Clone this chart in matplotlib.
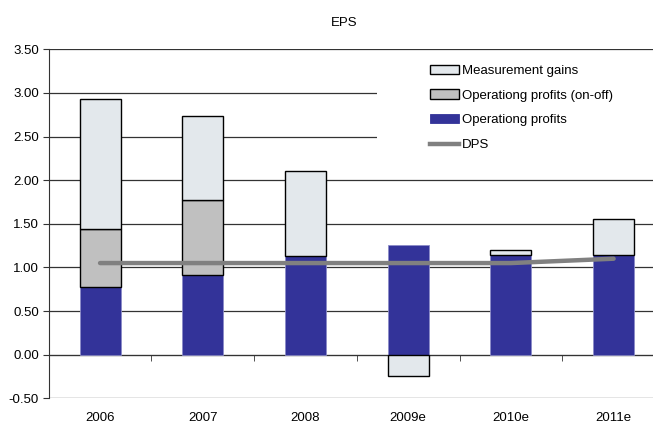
import numpy as np
import matplotlib
matplotlib.use("Agg")
import matplotlib.pyplot as plt
from matplotlib.patches import Patch, Rectangle
from matplotlib.lines import Line2D

plt.rcParams['font.family'] = ['Liberation Sans Narrow', 'Liberation Sans', 'DejaVu Sans']

years = ['2006', '2007', '2008', '2009e', '2010e', '2011e']
op_profits = [0.77, 0.91, 1.13, 1.26, 1.14, 1.14]
op_onoff = [0.67, 0.86, 0.0, 0.0, 0.0, 0.0]
meas_gains = [1.49, 0.97, 0.97, -0.25, 0.06, 0.42]
dps = [1.05, 1.05, 1.05, 1.05, 1.05, 1.10]
yticks = [-0.5, 0, 0.5, 1.0, 1.5, 2.0, 2.5, 3.0, 3.5]

c_op = '#333399'
c_onoff = '#c0c0c0'
c_meas = '#e3e8ec'
c_dps = '#808080'

fig = plt.figure(figsize=(6.53, 4.26), dpi=100)
ax = fig.add_axes([48.7 / 653, 27.7 / 426, (653 - 48.7) / 653, 349 / 426])

x = np.arange(len(years))
w = 0.40
op = np.array(op_profits)
onoff = np.array(op_onoff)
meas = np.array(meas_gains)

ax.bar(x, op, w, color=c_op, edgecolor='#8c8cc8', linewidth=0.6, zorder=3)
mask = onoff > 0
ax.bar(x[mask], onoff[mask], w, bottom=op[mask], color=c_onoff,
       edgecolor='black', linewidth=1.0, zorder=3)
meas_bottom = np.where(meas >= 0, op + onoff, 0.0)
ax.bar(x, meas, w, bottom=meas_bottom, color=c_meas,
       edgecolor='black', linewidth=1.0, zorder=3)
ax.plot(x, dps, color=c_dps, linewidth=3.2, solid_capstyle='round', zorder=4)

ax.set_ylim(-0.5, 3.5)
ax.set_xlim(-0.5, 5.5 - 12 / 102.8)
ax.set_yticks(yticks)
ax.set_yticklabels(['%.2f' % v for v in yticks], fontsize=9.5)
ax.yaxis.grid(True, color='#333333', linewidth=0.9, zorder=0)
ax.set_axisbelow(True)

for s in ['top', 'right']:
    ax.spines[s].set_visible(False)
ax.spines['left'].set_color('#333333')
ax.spines['bottom'].set_position(('data', 0))
ax.spines['bottom'].set_color('#333333')

ax.set_xticks(x)
ax.set_xticklabels(years, fontsize=9.5)
ax.set_xticks(np.arange(0.5, 5, 1), minor=True)
ax.tick_params(axis='x', which='major', length=0, pad=41)
ax.tick_params(axis='x', which='minor', length=4, direction='out', color='#333333')
ax.tick_params(axis='y', length=4, direction='out', color='#333333', pad=3)

# white panel behind the legend
ax.add_patch(Rectangle((0.543, 0.668), 0.457, 0.316, transform=ax.transAxes,
                       facecolor='white', edgecolor='none', zorder=1))

handles = [
    Patch(facecolor=c_meas, edgecolor='black', linewidth=1.0),
    Patch(facecolor=c_onoff, edgecolor='black', linewidth=1.0),
    Patch(facecolor=c_op, edgecolor=c_op, linewidth=0.6),
    Line2D([], [], color=c_dps, linewidth=3.2),
]
labels = ['Measurement gains', 'Operationg profits (on-off)', 'Operationg profits', 'DPS']
ax.legend(handles, labels, loc='upper left', bbox_to_anchor=(0.631, 0.956),
          frameon=False, borderpad=0, borderaxespad=0, fontsize=9.5,
          handlelength=2.2, handleheight=0.7, handletextpad=0.25, labelspacing=0.95)

fig.text(344 / 653, 1 - 23 / 426, 'EPS', ha='center', va='center', fontsize=9.5)

fig.savefig('out.png', dpi=100)
